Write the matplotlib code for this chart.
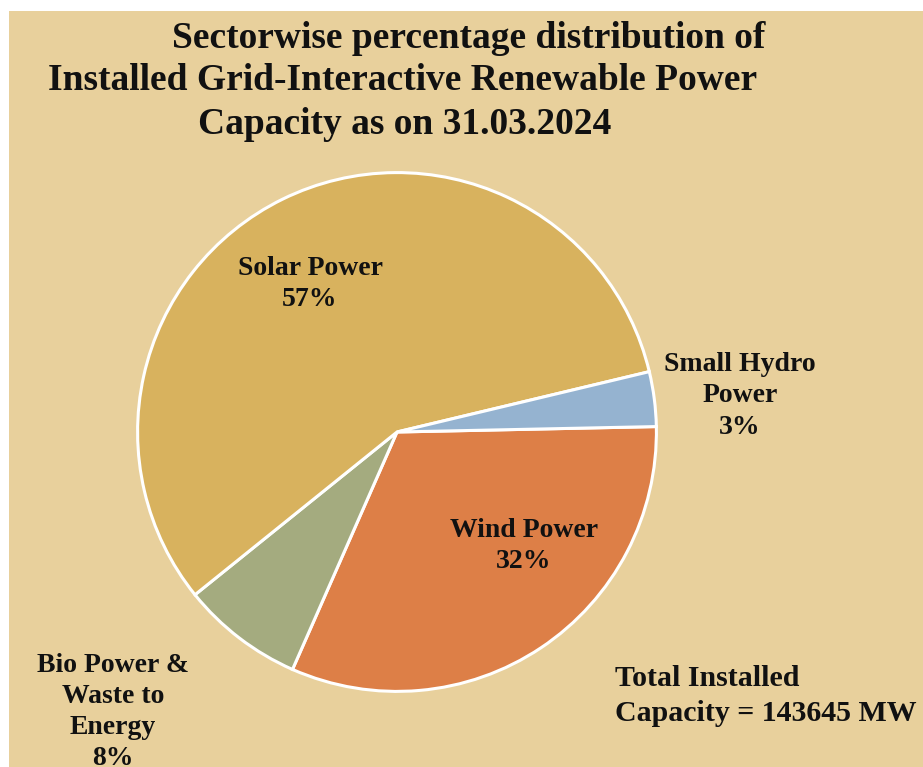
import matplotlib
matplotlib.use("Agg")
import matplotlib.pyplot as plt
from matplotlib.patches import Rectangle

# data (percent share, clockwise from the right-hand side)
sectors = ["Wind Power", "Bio Power &\nWaste to\nEnergy", "Solar Power", "Small Hydro\nPower"]
shares = [31.9, 7.6, 57.0, 3.4]
colors = ["#DD7F47", "#A4AB7F", "#D8B25E", "#95B3D0"]
total_mw = 143645
title_lines = ["Sectorwise percentage distribution of",
               "Installed Grid-Interactive Renewable Power",
               "Capacity as on 31.03.2024"]

W, H = 923, 767
fig = plt.figure(figsize=(W / 100, H / 100), dpi=100, facecolor="white")
fig.patches.append(Rectangle((9 / W, 0), 1 - 9 / W, 1 - 11 / H, transform=fig.transFigure,
                             facecolor="#E8D09C", edgecolor="none", zorder=-10))

font = dict(family="Liberation Serif", fontweight="bold", color="#111111")

# pie axes: centre ~ (397, 432) px, radius ~ 262 px
cx, cy, r = 397, 432, 262
ax = fig.add_axes([(cx - r) / W, (H - cy - r) / H, 2 * r / W, 2 * r / H])
ax.set_facecolor("none")
wedges, _ = ax.pie(shares, colors=colors, startangle=1.2, counterclock=False,
                   wedgeprops=dict(edgecolor="white", linewidth=2.2), radius=1)
ax.set_xlim(-1.01, 1.01)
ax.set_ylim(-1.01, 1.01)
ax.set_aspect("equal")
ax.axis("off")

# labels (pixel positions of label centres)
pcts = [f"{round(s)}%" for s in shares]
label_pos = [(524, 546), (113, 712), (310, 284), (740, 396)]
for name, pct, (x, y) in zip(sectors, pcts, label_pos):
    fig.text(x / W, 1 - y / H, f"{name}\n{pct}", ha="center", va="center",
             fontsize=20, linespacing=1.32, **font)

# title, each line on its own centre
for line, (x, y) in zip(title_lines, [(469, 38), (403, 80), (405, 124)]):
    fig.text(x / W, 1 - y / H, line, ha="center", va="center", fontsize=27, **font)

fig.text(615 / W, 1 - 696 / H, f"Total Installed\nCapacity = {total_mw} MW",
         ha="left", va="center", fontsize=21.5, linespacing=1.35, **font)

fig.savefig("out.png", dpi=100, facecolor=fig.get_facecolor())
